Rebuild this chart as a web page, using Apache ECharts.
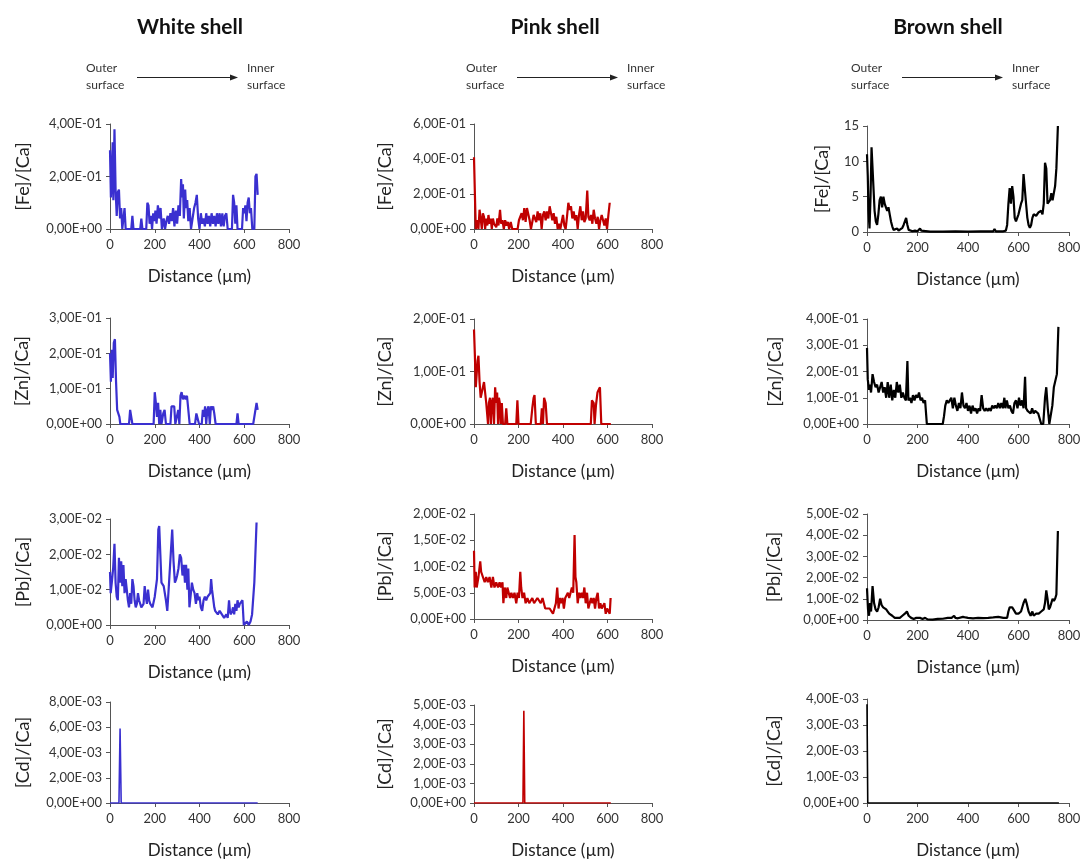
<!DOCTYPE html>
<html><head><meta charset="utf-8">
<script src="https://cdn.jsdelivr.net/npm/echarts@6/dist/echarts.min.js"></script>
<style>html,body{margin:0;padding:0;background:#fff}#c{width:1087px;height:860px}</style>
</head><body><div id="c"></div>
<script>
// ---------- DATA: [distance (µm), ratio] ----------
const shells = ['White shell', 'Pink shell', 'Brown shell'];
const elements = ['[Fe]/[Ca]', '[Zn]/[Ca]', '[Pb]/[Ca]', '[Cd]/[Ca]'];
const xTicks = [0, 200, 400, 600, 800];

const whiteFe = [[0,0.30],[4,0.12],[8,0.20],[12,0.33],[15,0.11],[20,0.38],[25,0.15],[30,0.05],[35,0.14],[40,0.15],[45,0.04],[50,0.08],[55,0],[60,0.04],[65,0.08],[70,0],[95,0],[100,0.05],[105,0],[135,0],[140,0.04],[145,0],[162,0],[167,0.10],[172,0.09],[177,0.02],[183,0.05],[188,0],[193,0.06],[198,0.03],[203,0.07],[208,0.02],[214,0.09],[220,0.04],[226,0.08],[232,0],[240,0.04],[246,0],[252,0.03],[258,0.05],[264,0.02],[270,0.06],[276,0.03],[282,0.08],[288,0.01],[294,0.07],[300,0.02],[306,0.09],[312,0.05],[318,0.19],[322,0.12],[326,0.17],[330,0.04],[336,0.15],[340,0.08],[345,0.11],[350,0.03],[356,0.08],[362,0],[370,0],[376,0.08],[382,0.10],[388,0.13],[394,0.04],[400,0],[406,0.06],[412,0.02],[418,0.04],[424,0.01],[430,0.06],[436,0.02],[442,0.05],[448,0.01],[454,0.06],[460,0.02],[466,0.05],[472,0.01],[478,0.06],[484,0.02],[490,0.06],[496,0.01],[502,0.06],[508,0.01],[514,0.05],[520,0.06],[526,0],[545,0],[550,0.13],[555,0.10],[560,0.02],[565,0.09],[570,0],[590,0],[595,0.08],[600,0.06],[605,0.09],[610,0.03],[615,0.10],[620,0.12],[625,0.06],[630,0.08],[636,0],[645,0],[650,0.20],[655,0.21],[660,0.13]];
const whiteZn = [[0,0.20],[4,0.12],[8,0.21],[12,0.13],[17,0.23],[22,0.24],[27,0.12],[32,0.04],[37,0.04],[42,0.02],[46,0],[85,0],[90,0.04],[95,0.04],[100,0],[195,0],[200,0.09],[205,0.06],[210,0.02],[215,0.06],[220,0],[225,0.04],[230,0],[238,0.03],[244,0.04],[250,0],[270,0],[275,0.05],[280,0.05],[287,0.05],[292,0],[300,0],[305,0.04],[310,0],[315,0.08],[320,0.09],[326,0.07],[332,0.08],[338,0.07],[344,0.08],[350,0.08],[356,0],[380,0],[386,0.03],[392,0.03],[398,0],[410,0],[415,0.04],[420,0.02],[425,0.05],[430,0],[435,0.04],[440,0.05],[446,0],[451,0.05],[456,0.04],[461,0.05],[466,0.03],[472,0],[565,0],[570,0.03],[575,0],[640,0],[650,0.04],[655,0.06],[660,0.04]];
const whitePb = [[0,0.015],[3,0.009],[8,0.012],[14,0.016],[20,0.023],[25,0.012],[30,0.008],[35,0.007],[40,0.019],[45,0.012],[50,0.018],[55,0.011],[60,0.017],[65,0.009],[70,0.013],[75,0.010],[80,0.007],[85,0.005],[90,0.009],[95,0.006],[100,0.013],[105,0.011],[110,0.007],[115,0.005],[120,0.006],[125,0.009],[130,0.007],[140,0.005],[150,0.006],[155,0.011],[160,0.008],[165,0.006],[170,0.010],[175,0.007],[180,0.006],[190,0.005],[200,0.008],[210,0.013],[216,0.027],[220,0.028],[225,0.020],[230,0.012],[240,0.011],[250,0.007],[256,0.004],[262,0.010],[270,0.010],[278,0.027],[284,0.018],[290,0.012],[296,0.013],[300,0.014],[306,0.016],[312,0.020],[318,0.019],[324,0.014],[330,0.017],[335,0.012],[340,0.017],[346,0.010],[350,0.016],[355,0.005],[360,0.008],[366,0.012],[372,0.010],[378,0.009],[384,0.006],[390,0.009],[395,0.007],[400,0.008],[406,0.005],[412,0.004],[418,0.007],[424,0.008],[430,0.007],[436,0.008],[442,0.008],[448,0.009],[452,0.013],[456,0.010],[460,0.008],[466,0.005],[470,0.004],[476,0.004],[482,0.003],[490,0.004],[500,0.003],[510,0.002],[520,0.003],[526,0.002],[532,0.007],[536,0.004],[540,0.003],[546,0.004],[550,0.005],[555,0.003],[560,0.006],[565,0.004],[570,0.007],[575,0.005],[580,0.006],[585,0.006],[592,0.007],[598,0],[605,0],[612,0.001],[620,0],[628,0.001],[635,0.003],[645,0.012],[655,0.029]];
const whiteCd = [[0,0],[40,0],[45,0.0059],[50,0],[660,0]];

const pinkFe = [[0,0.41],[4,0.20],[8,0],[15,0.05],[20,0],[25,0.11],[30,0.06],[35,0],[40,0.09],[45,0.07],[50,0],[55,0.06],[60,0.02],[65,0.08],[70,0.03],[75,0.06],[80,0],[85,0.06],[90,0.03],[95,0.04],[100,0.01],[105,0.06],[110,0.02],[117,0.11],[122,0.03],[128,0.05],[134,0],[140,0.05],[146,0.02],[152,0.04],[158,0],[165,0.04],[172,0],[196,0],[202,0.05],[208,0.04],[214,0.09],[220,0.05],[226,0.12],[232,0.04],[238,0.12],[244,0.13],[250,0.05],[256,0],[262,0.04],[268,0.08],[274,0.09],[280,0.04],[286,0.10],[292,0.05],[298,0.09],[304,0],[310,0.08],[316,0.10],[322,0.05],[328,0.10],[334,0.06],[340,0.13],[346,0.09],[352,0.05],[358,0.09],[364,0.03],[370,0.07],[376,0],[382,0.03],[388,0],[394,0],[400,0.08],[406,0.02],[412,0],[418,0.07],[424,0.15],[430,0.11],[436,0.13],[442,0.06],[448,0.10],[454,0.05],[460,0.08],[466,0],[472,0.08],[478,0.13],[484,0.05],[490,0.10],[496,0.04],[502,0.06],[509,0.22],[514,0.07],[520,0.05],[526,0.08],[532,0.03],[538,0.11],[544,0.06],[550,0.03],[556,0.07],[562,0],[568,0.05],[574,0.08],[580,0.05],[586,0.02],[592,0.06],[598,0],[604,0.08],[610,0.15]];
const pinkZn = [[0,0.18],[4,0.13],[8,0.07],[12,0.07],[16,0.12],[20,0.13],[25,0.08],[30,0.05],[35,0.06],[40,0.07],[45,0.08],[50,0.06],[55,0.04],[60,0.04],[63,0],[67,0.04],[72,0.05],[76,0],[80,0.04],[85,0.05],[90,0],[95,0.07],[100,0.04],[104,0.06],[108,0],[112,0.05],[116,0.04],[120,0],[125,0.04],[130,0],[140,0],[145,0.03],[150,0],[190,0],[195,0.045],[200,0],[255,0],[262,0.03],[268,0.05],[272,0.055],[278,0],[300,0],[305,0.03],[310,0],[315,0.05],[322,0.04],[328,0],[525,0],[530,0.045],[538,0.04],[542,0],[548,0.035],[555,0.06],[560,0.065],[566,0.07],[572,0],[615,0]];
const pinkPb = [[0,0.013],[3,0.006],[8,0.009],[12,0.006],[20,0.008],[28,0.011],[32,0.009],[40,0.008],[48,0.007],[55,0.008],[62,0.007],[70,0.008],[78,0.006],[85,0.008],[92,0.006],[100,0.007],[108,0.006],[115,0.007],[122,0.006],[128,0.007],[132,0.003],[138,0.006],[145,0.004],[150,0.006],[156,0.005],[162,0.004],[168,0.005],[175,0.004],[182,0.005],[190,0.003],[196,0.005],[202,0.004],[208,0.009],[212,0.006],[218,0.004],[225,0.005],[232,0.003],[240,0.004],[248,0.003],[255,0.003],[262,0.004],[270,0.003],[278,0.003],[285,0.004],[292,0.004],[300,0.003],[308,0.004],[314,0.003],[320,0.002],[330,0.002],[340,0.002],[348,0.002],[355,0.001],[362,0.001],[368,0.003],[374,0.006],[380,0.002],[386,0.004],[392,0.003],[398,0.004],[404,0.002],[410,0.004],[416,0.004],[422,0.005],[428,0.004],[434,0.005],[440,0.006],[446,0.005],[452,0.016],[456,0.008],[460,0.007],[466,0.003],[472,0.005],[478,0.004],[484,0.005],[490,0.004],[496,0.006],[502,0.003],[508,0.005],[514,0.002],[520,0.003],[526,0.004],[532,0.003],[538,0.004],[544,0.002],[550,0.004],[556,0.005],[562,0.002],[568,0.003],[574,0.002],[580,0.002],[586,0.003],[592,0.001],[598,0.002],[604,0.002],[610,0.001],[614,0.004]];
const pinkCd = [[0,0],[220,0],[224,0.0047],[228,0],[615,0]];

const brownFe = [[0,11],[3,8],[6,3],[10,0.5],[14,5],[18,12],[22,12],[26,6],[30,3],[35,1.5],[40,1.0],[45,2.5],[50,4.5],[55,5],[60,3.5],[65,5],[70,4],[75,3.5],[80,3.0],[85,3.5],[90,2.5],[95,1.5],[100,0.8],[105,0.3],[110,0.1],[120,0.5],[125,0.2],[130,0.3],[140,0.6],[145,1.0],[150,1.5],[155,2.0],[160,1.0],[165,0.3],[170,0.2],[180,0.1],[190,0.2],[200,0.1],[210,0.5],[215,0.2],[220,0.1],[250,0.05],[300,0.05],[350,0.08],[400,0.05],[450,0.08],[500,0.1],[505,0.4],[510,0.1],[540,0.1],[550,0.2],[555,1.0],[560,4],[565,6.2],[570,4],[575,6.5],[580,5],[585,2],[590,1.5],[600,2.5],[610,4],[615,4.5],[620,8.2],[625,8],[630,4],[635,2],[640,1.0],[645,0.6],[650,1],[655,2],[660,2.5],[670,2.3],[680,2.8],[690,3],[695,2.5],[700,4],[705,9.8],[710,9],[715,4],[720,4],[725,4.5],[730,5.5],[735,4.5],[740,5.5],[745,6.5],[750,9],[756,15]];
const brownZn = [[0,0.29],[3,0.17],[8,0.13],[12,0.15],[16,0.12],[22,0.19],[28,0.16],[34,0.14],[40,0.15],[46,0.12],[52,0.14],[58,0.16],[64,0.12],[70,0.14],[76,0.10],[82,0.16],[88,0.10],[94,0.15],[100,0.09],[106,0.13],[112,0.10],[118,0.16],[124,0.12],[130,0.15],[136,0.10],[142,0.12],[148,0.10],[154,0.09],[160,0.24],[164,0.09],[170,0.10],[176,0.08],[182,0.11],[188,0.09],[194,0.11],[200,0.10],[206,0.12],[212,0.09],[218,0.10],[224,0.08],[230,0.09],[237,0],[300,0],[305,0.03],[310,0.07],[316,0.09],[322,0.08],[328,0.09],[334,0.10],[340,0.06],[346,0.10],[352,0.07],[358,0.05],[364,0.08],[370,0.06],[376,0.12],[382,0.07],[388,0.06],[394,0.08],[400,0.05],[406,0.07],[412,0.04],[418,0.07],[424,0.05],[430,0.06],[436,0.04],[442,0.06],[448,0.05],[454,0.11],[460,0.06],[466,0.05],[472,0.06],[478,0.05],[484,0.06],[490,0.05],[496,0.07],[502,0.06],[508,0.07],[514,0.06],[520,0.08],[526,0.06],[532,0.08],[538,0.06],[544,0.10],[548,0.06],[554,0.09],[560,0.06],[566,0.07],[572,0.05],[578,0.04],[584,0.08],[590,0.09],[596,0.06],[602,0.10],[608,0.07],[614,0.09],[620,0.06],[626,0.18],[630,0.06],[636,0.05],[642,0.05],[648,0.04],[654,0.06],[660,0.04],[666,0.05],[672,0.05],[678,0.04],[684,0.02],[690,0],[698,0],[705,0.10],[710,0.14],[716,0.06],[722,0],[728,0],[734,0.07],[740,0.14],[746,0.14],[752,0.19],[758,0.37]];
const brownPb = [[0,0.015],[4,0.005],[8,0.002],[12,0.008],[16,0.004],[22,0.016],[28,0.008],[34,0.005],[40,0.004],[46,0.006],[52,0.010],[58,0.007],[64,0.006],[70,0.006],[76,0.005],[82,0.004],[88,0.003],[94,0.003],[100,0.002],[110,0.001],[120,0.001],[130,0.001],[140,0.002],[150,0.003],[158,0.004],[165,0.002],[175,0.001],[185,0.0005],[195,0.001],[200,0.0005],[210,0.001],[220,0.0005],[230,0.001],[240,0.0003],[260,0.0002],[280,0.0005],[300,0.0006],[320,0.001],[335,0.001],[345,0.002],[350,0.001],[360,0.0008],[380,0.0015],[390,0.0012],[400,0.001],[420,0.0008],[440,0.001],[460,0.0009],[480,0.001],[500,0.0012],[520,0.0015],[540,0.001],[555,0.001],[560,0.004],[565,0.006],[575,0.006],[580,0.005],[590,0.003],[600,0.003],[610,0.004],[620,0.008],[627,0.010],[632,0.008],[640,0.004],[648,0.002],[655,0.004],[660,0.002],[670,0.003],[680,0.003],[690,0.004],[700,0.005],[705,0.008],[710,0.014],[715,0.010],[720,0.005],[725,0.006],[730,0.008],[735,0.010],[740,0.009],[745,0.010],[750,0.012],[756,0.042]];
const brownCd = [[0,0.0038],[3,0],[760,0]];

// y-axis scales per panel [max, interval]
const whiteScale = [[0.4,0.2],[0.3,0.1],[0.03,0.01],[0.008,0.002]];
const pinkScale  = [[0.6,0.2],[0.2,0.1],[0.02,0.005],[0.005,0.001]];
const brownScale = [[15,5],[0.4,0.1],[0.05,0.01],[0.004,0.001]];

// ---------- LAYOUT ----------
const colors = ['#3a30d0', '#c00000', '#000000'];
const colLeft = [110, 474, 867];
const colWidth = [179, 178, 202];
const rowBox = [ // [top, bottom] per column per row
  [[124,229],[318,424],[519,625],[702,806]],
  [[124,229],[319,424],[514,619],[705,805]],
  [[126,232],[319,424],[514,620],[699,806]]
];
const nameGapY = [[78,79,78,78],[80,80,80,80],[36,83,84,84]];
const FONT = 'Lato, "Open Sans", sans-serif';

const data = [[whiteFe, whiteZn, whitePb, whiteCd],[pinkFe, pinkZn, pinkPb, pinkCd],[brownFe, brownZn, brownPb, brownCd]];
const scales = [whiteScale, pinkScale, brownScale];

function sci(v) {
  if (Math.abs(v) < 1e-12) return '0,00E+00';
  const s = v.toExponential(2).split('e');
  const n = parseInt(s[1], 10);
  return s[0].replace('.', ',') + 'E' + (n < 0 ? '-' : '+') + String(Math.abs(n)).padStart(2, '0');
}

const grid = [], xAxis = [], yAxis = [], series = [];
let k = 0;
for (let c = 0; c < 3; c++) {
  for (let r = 0; r < 4; r++) {
    const [top, bottom] = rowBox[c][r];
    grid.push({left: colLeft[c], top: top, width: colWidth[c], height: bottom - top, containLabel: false});
    xAxis.push({
      gridIndex: k, type: 'value', min: xTicks[0], max: xTicks[xTicks.length-1], interval: xTicks[1]-xTicks[0],
      name: 'Distance (µm)', nameLocation: 'middle', nameGap: 39,
      nameTextStyle: {fontFamily: FONT, fontSize: 17, color: '#222'},
      axisLine: {lineStyle: {color: '#555', width: 1}},
      axisTick: {show: true, length: 4, lineStyle: {color: '#555'}},
      axisLabel: {fontFamily: FONT, fontSize: 13, color: '#333', margin: 9},
      splitLine: {show: false}
    });
    const [mx, iv] = scales[c][r];
    const plain = (c === 2 && r === 0);
    yAxis.push({
      gridIndex: k, type: 'value', min: 0, max: mx, interval: iv,
      name: elements[r], nameLocation: 'middle', nameGap: nameGapY[c][r], nameRotate: 90,
      nameTextStyle: {fontFamily: FONT, fontSize: 18, color: '#222'},
      axisLine: {show: true, lineStyle: {color: '#555', width: 1}},
      axisTick: {show: true, length: 4, lineStyle: {color: '#555'}},
      axisLabel: {fontFamily: FONT, fontSize: 13, color: '#333', margin: 8,
        formatter: plain ? (v => String(Math.round(v))) : sci},
      splitLine: {show: false}
    });
    series.push({
      type: 'line', xAxisIndex: k, yAxisIndex: k, data: data[c][r],
      showSymbol: false, symbol: 'none', animation: false, silent: true,
      lineStyle: {color: colors[c], width: r === 3 ? 1.6 : 2.2}
    });
    k++;
  }
}

// ---------- HEADER (titles + outer/inner arrows) ----------
const titleX = [190, 555, 948];
const outerX = [86, 466, 851];
const arrowX = [[137,238],[517,618],[902,1003]];
const innerX = [247, 627, 1012];
const graphic = [];
for (let c = 0; c < 3; c++) {
  graphic.push({type: 'text', x: titleX[c], y: 27, style: {text: shells[c], font: 'bold 21px ' + FONT, fill: '#111', textAlign: 'center', textVerticalAlign: 'middle'}});
  graphic.push({type: 'text', left: outerX[c], top: 60, style: {text: 'Outer\nsurface', font: '12px ' + FONT, fill: '#333', lineHeight: 17}});
  graphic.push({type: 'text', left: innerX[c], top: 60, style: {text: 'Inner\nsurface', font: '12px ' + FONT, fill: '#333', lineHeight: 17}});
  graphic.push({type: 'line', shape: {x1: arrowX[c][0], y1: 77.5, x2: arrowX[c][1] - 6, y2: 77.5}, style: {stroke: '#222', lineWidth: 1}});
  graphic.push({type: 'polygon', shape: {points: [[arrowX[c][1], 77.5], [arrowX[c][1] - 8, 74.5], [arrowX[c][1] - 8, 80.5]]}, style: {fill: '#222'}});
}

const chart = echarts.init(document.getElementById('c'), null, {renderer: 'canvas'});
chart.setOption({backgroundColor: '#fff', animation: false, grid, xAxis, yAxis, series, graphic});
</script></body></html>
